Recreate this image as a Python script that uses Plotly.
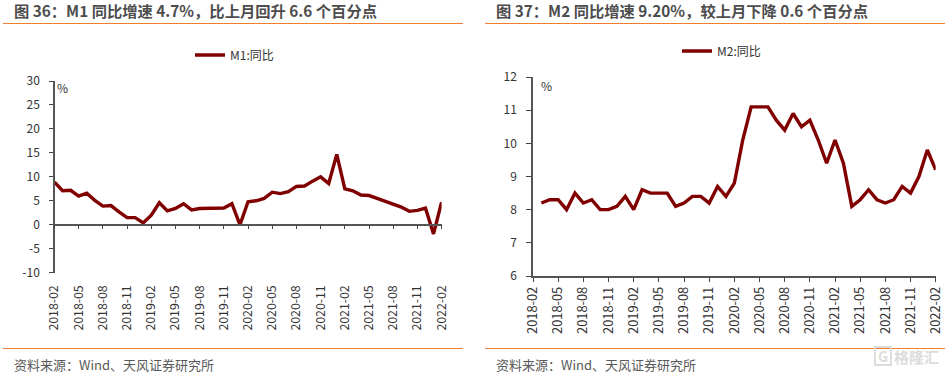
import plotly.graph_objects as go

W, H = 948, 373
months = [f"{y}-{m:02d}" for y in range(2018, 2023) for m in range(1, 13)]
months = months[months.index("2018-02"):months.index("2022-02") + 1]
tick_labels = ["2018-02","2018-05","2018-08","2018-11","2019-02","2019-05","2019-08","2019-11",
               "2020-02","2020-05","2020-08","2020-11","2021-02","2021-05","2021-08","2021-11","2022-02"]
m1_ticks = [-10, -5, 0, 5, 10, 15, 20, 25, 30]
m1_tick_text = ["-10", "-5", "0", "5", "10", "15", "20", "25", "30"]
m2_ticks = [6, 7, 8, 9, 10, 11, 12]
m1_values = [8.9,7.1,7.2,6.0,6.6,5.1,3.9,4.0,2.7,1.5,1.5,0.4,2.0,4.6,2.9,3.4,4.4,3.1,3.4,3.4,3.4,3.5,4.4,
             0.0,4.8,5.0,5.5,6.8,6.5,6.9,8.0,8.1,9.1,10.0,8.6,14.7,7.5,7.1,6.2,6.1,5.5,4.9,4.2,3.7,2.8,3.0,3.5,-1.9,4.7]
m2_values = [8.2,8.3,8.3,8.0,8.5,8.2,8.3,8.0,8.0,8.1,8.4,8.0,8.6,8.5,8.5,8.5,8.1,8.2,8.4,8.4,8.2,8.7,8.4,8.8,
             10.1,11.1,11.1,11.1,10.7,10.4,10.9,10.5,10.7,10.1,9.4,10.1,9.4,8.1,8.3,8.6,8.3,8.2,8.3,8.7,8.5,9.0,9.8,9.2]
m2_months = months[1:]
titles = ["图 36：M1 同比增速 4.7%，比上月回升 6.6 个百分点", "图 37：M2 同比增速 9.20%，较上月下降 0.6 个百分点"]
source = "资料来源：Wind、天风证券研究所"

FONT = "Noto Sans CJK SC"
DARK = "#333333"
LINE = "#800000"
def px(v): return v / W
def py(v): return 1 - v / H

fig = go.Figure()
fig.add_trace(go.Scatter(x=months, y=m1_values, mode="lines", name="M1:同比", xaxis="x", yaxis="y",
                         line=dict(color=LINE, width=3.4, shape="linear"), legend="legend"))
fig.add_trace(go.Scatter(x=m2_months, y=m2_values, mode="lines", name="M2:同比", xaxis="x2", yaxis="y2",
                         line=dict(color=LINE, width=3.4, shape="linear"), legend="legend2"))

xcommon = dict(type="category", categoryorder="array", categoryarray=months, tickmode="array", tickvals=tick_labels,
               ticktext=tick_labels, range=[0, 48], tickangle=-90, showgrid=False, zeroline=False, showline=True,
               ticks="outside", ticklen=4, tickwidth=1, tickcolor="#444", linecolor="#555", linewidth=1.5,
               tickfont=dict(family=FONT, size=12.3, color=DARK), automargin=False)
ycommon = dict(showgrid=False, zeroline=False, showline=True, ticks="outside", tickwidth=1,
               tickcolor="#444", linecolor="#555", linewidth=1.5, tickfont=dict(family=FONT, size=12, color=DARK),
               automargin=False)

shapes = []
for x0, x1 in [(3, 463), (485, 945)]:
    for y in (23.5, 348.5):
        shapes.append(dict(type="line", xref="paper", yref="paper", x0=px(x0), x1=px(x1), y0=py(y), y1=py(y),
                           line=dict(color="#ED7D31", width=1.2)))
shapes.append(dict(type="rect", xref="paper", yref="paper", x0=px(875), x1=px(891), y0=py(365), y1=py(347),
                   line=dict(color="#dcdcdc", width=2)))

def note(x, y, text, size, color, bold=False, anchor="left"):
    return dict(xref="paper", yref="paper", x=px(x), y=py(y), text=f"<b>{text}</b>" if bold else text, showarrow=False,
                xanchor=anchor, yanchor="middle", font=dict(family=FONT, size=size, color=color))

annotations = [
    note(12, 9.5, titles[0], 15.3, "#4d4d4d", True),
    note(494, 9.5, titles[1], 15.3, "#4d4d4d", True),
    note(12, 364, source, 13, "#595959"),
    note(494, 364, source, 13, "#595959"),
    note(55, 88, "%", 12, DARK),
    note(538.5, 85, "%", 12, DARK),
    note(883, 356, "G", 14, "#dcdcdc", True, "center"),
    note(892, 356, "格隆汇", 15, "#dcdcdc", True),
]

def legend(x, y):
    return dict(x=px(x), y=py(y), xanchor="left", yanchor="middle", orientation="h", bgcolor="rgba(0,0,0,0)",
                font=dict(family=FONT, size=12, color=DARK), itemwidth=30, tracegroupgap=0)

fig.update_layout(
    width=W, height=H, autosize=False, margin=dict(l=0, r=0, t=0, b=0), paper_bgcolor="white", plot_bgcolor="white",
    xaxis=dict(xcommon, domain=[px(54.5), px(441.6)], anchor="free", position=py(224.7), ticklabelstandoff=51),
    yaxis=dict(ycommon, domain=[py(272.7), py(81)], range=[-10, 30], tickmode="array", tickvals=m1_ticks,
               ticktext=m1_tick_text, anchor="x", ticklen=3.5, ticklabelstandoff=7),
    xaxis2=dict(xcommon, domain=[px(533), px(935.7)], anchor="y2", tickfont=dict(family=FONT, size=12.8, color=DARK)),
    yaxis2=dict(ycommon, domain=[py(276), py(77)], range=[6, 12], tickmode="array", tickvals=m2_ticks, anchor="x2",
                ticklen=5, ticklabelstandoff=7),
    legend=legend(190, 55), legend2=legend(677, 51), showlegend=True,
    shapes=shapes, annotations=annotations,
)
fig.write_html("out.html", config={"displayModeBar": False},
               post_script="document.body.style.margin='0';document.body.style.overflow='hidden';")
